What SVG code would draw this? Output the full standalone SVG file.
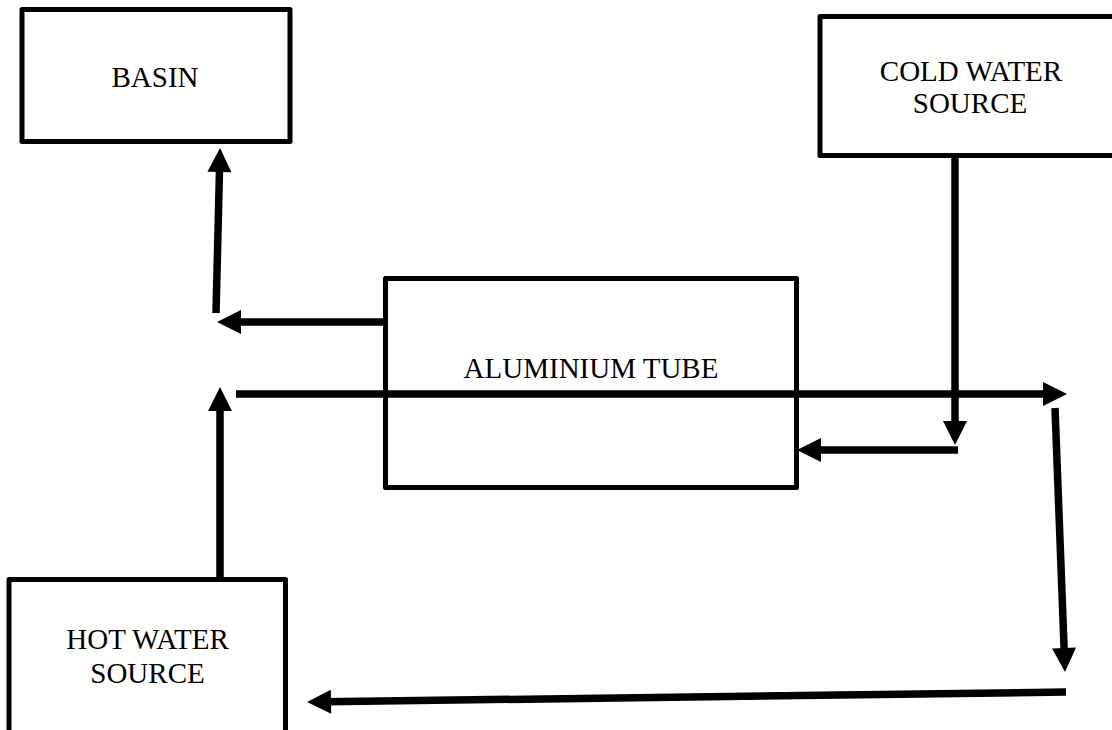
<svg xmlns="http://www.w3.org/2000/svg" width="1112" height="730" viewBox="0 0 1112 730">
<defs>
<style>
.box{fill:#fff;stroke:#000;stroke-width:5;stroke-linejoin:round}
.lbl{font-family:"Liberation Serif","Times New Roman",serif;font-size:29px;fill:#000;text-anchor:middle}
.conn{stroke:#000;stroke-width:7.5;fill:none;marker-end:url(#ah)}
.plain{stroke:#000;stroke-width:7.5;fill:none}
</style>
<marker id="ah" markerUnits="userSpaceOnUse" markerWidth="24" markerHeight="24" refX="6" refY="12" orient="auto" overflow="visible">
<path d="M0,0 L24,12 L0,24 z" fill="#000"/>
</marker>
</defs>
<rect width="1112" height="730" fill="#fff"/>
<g id="basin">
<rect class="box" x="22" y="9.5" width="268" height="132"/>
<text class="lbl" x="155" y="87">BASIN</text>
</g>
<g id="cold-water-source">
<rect class="box" x="820" y="16.5" width="300" height="139"/>
<text class="lbl" x="971" y="81">COLD WATER</text>
<text class="lbl" x="970" y="113">SOURCE</text>
</g>
<g id="aluminium-tube">
<rect class="box" x="385.5" y="278.5" width="411" height="209"/>
<text class="lbl" x="591" y="378">ALUMINIUM TUBE</text>
</g>
<g id="hot-water-source">
<rect class="box" x="9" y="579.5" width="276.5" height="160"/>
<text class="lbl" x="147.5" y="649">HOT WATER</text>
<text class="lbl" x="147.5" y="683">SOURCE</text>
</g>
<g id="connectors">
<line class="conn" x1="216" y1="313" x2="219.6" y2="166"/>
<line class="conn" x1="388" y1="322" x2="235" y2="322"/>
<line class="conn" x1="220" y1="577" x2="220" y2="405"/>
<line class="conn" x1="236" y1="394" x2="1049" y2="394"/>
<line class="conn" x1="955" y1="157" x2="955" y2="427"/>
<line class="conn" x1="958" y1="450" x2="815" y2="450"/>
<line class="conn" x1="1055" y1="408" x2="1064.3" y2="654"/>
<line class="conn" x1="1066" y1="692" x2="325" y2="701.8"/>
</g>
</svg>
